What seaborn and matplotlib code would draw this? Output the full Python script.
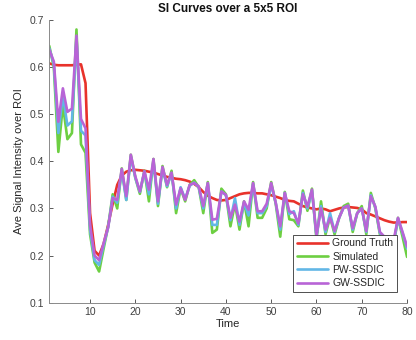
import numpy as np
import pandas as pd
import matplotlib
matplotlib.use("Agg")
import matplotlib.pyplot as plt
import seaborn as sns

time = list(range(1, 81))

ground_truth = [0.608, 0.605, 0.604, 0.604, 0.604, 0.604, 0.605, 0.606, 0.566, 0.29,
                0.21, 0.20, 0.225, 0.265, 0.31, 0.35, 0.37, 0.378, 0.381, 0.382,
                0.381, 0.38, 0.378, 0.376, 0.373, 0.37, 0.367, 0.365, 0.363, 0.362,
                0.36, 0.357, 0.352, 0.345, 0.335, 0.327, 0.322, 0.318, 0.317, 0.318,
                0.322, 0.326, 0.33, 0.332, 0.333, 0.333, 0.332, 0.332, 0.33, 0.328,
                0.325, 0.322, 0.318, 0.316, 0.315, 0.31, 0.305, 0.302, 0.30, 0.298,
                0.30, 0.298, 0.294, 0.297, 0.30, 0.302, 0.303, 0.302, 0.301, 0.298,
                0.29, 0.287, 0.283, 0.279, 0.275, 0.272, 0.27, 0.27, 0.271, 0.271]

simulated = [0.645, 0.60, 0.42, 0.52, 0.447, 0.46, 0.68, 0.436, 0.418, 0.245,
             0.185, 0.166, 0.215, 0.262, 0.33, 0.30, 0.385, 0.318, 0.414, 0.365,
             0.331, 0.38, 0.315, 0.405, 0.305, 0.39, 0.345, 0.38, 0.29, 0.343,
             0.315, 0.35, 0.36, 0.345, 0.29, 0.356, 0.248, 0.255, 0.342, 0.33,
             0.262, 0.31, 0.255, 0.315, 0.262, 0.356, 0.28, 0.28, 0.30, 0.356,
             0.31, 0.24, 0.335, 0.277, 0.275, 0.262, 0.338, 0.295, 0.342, 0.235,
             0.315, 0.245, 0.282, 0.245, 0.28, 0.305, 0.31, 0.25, 0.29, 0.305,
             0.245, 0.333, 0.30, 0.245, 0.23, 0.24, 0.22, 0.28, 0.24, 0.197]

pw_ssdic = [0.64, 0.607, 0.46, 0.54, 0.476, 0.485, 0.662, 0.465, 0.455, 0.255,
            0.19, 0.18, 0.222, 0.26, 0.325, 0.312, 0.38, 0.318, 0.41, 0.365,
            0.335, 0.378, 0.33, 0.40, 0.31, 0.385, 0.347, 0.375, 0.30, 0.345,
            0.32, 0.348, 0.355, 0.345, 0.30, 0.353, 0.265, 0.265, 0.336, 0.328,
            0.275, 0.322, 0.265, 0.312, 0.285, 0.352, 0.29, 0.29, 0.305, 0.35,
            0.312, 0.255, 0.333, 0.288, 0.294, 0.265, 0.333, 0.30, 0.338, 0.24,
            0.305, 0.25, 0.29, 0.25, 0.28, 0.302, 0.305, 0.255, 0.29, 0.30,
            0.25, 0.328, 0.302, 0.248, 0.235, 0.24, 0.225, 0.278, 0.248, 0.215]

gw_ssdic = [0.637, 0.612, 0.484, 0.555, 0.505, 0.512, 0.667, 0.49, 0.47, 0.265,
            0.20, 0.19, 0.226, 0.26, 0.322, 0.318, 0.384, 0.326, 0.414, 0.368,
            0.336, 0.379, 0.34, 0.405, 0.315, 0.388, 0.35, 0.376, 0.308, 0.343,
            0.318, 0.35, 0.354, 0.347, 0.305, 0.354, 0.276, 0.278, 0.336, 0.329,
            0.28, 0.308, 0.272, 0.315, 0.297, 0.354, 0.294, 0.294, 0.31, 0.354,
            0.312, 0.262, 0.333, 0.294, 0.29, 0.268, 0.33, 0.304, 0.34, 0.243,
            0.30, 0.255, 0.28, 0.252, 0.28, 0.302, 0.306, 0.258, 0.29, 0.30,
            0.252, 0.326, 0.304, 0.25, 0.24, 0.24, 0.23, 0.28, 0.25, 0.219]

series_names = ["Ground Truth", "Simulated", "PW-SSDIC", "GW-SSDIC"]
x_ticks = [10, 20, 30, 40, 50, 60, 70, 80]
y_ticks = [0.1, 0.2, 0.3, 0.4, 0.5, 0.6, 0.7]

df = pd.concat([
    pd.DataFrame({"Time": time, "Value": vals, "Series": name})
    for name, vals in zip(series_names, [ground_truth, simulated, pw_ssdic, gw_ssdic])
], ignore_index=True)

sns.set_style("white")
plt.rcParams['font.family'] = ['Liberation Sans', 'DejaVu Sans']

palette = {"Ground Truth": "#e8322b", "Simulated": "#6dcf42",
           "PW-SSDIC": "#62b7e6", "GW-SSDIC": "#b864d6"}

fig = plt.figure(figsize=(4.16, 3.40), dpi=100)
ax = fig.add_axes([0.1185, 0.11, 0.86, 0.831])

sns.lineplot(data=df, x="Time", y="Value", hue="Series", hue_order=series_names,
             palette=palette, linewidth=1.9, ax=ax, legend=True)

ax.set_xlim(1, 80)
ax.set_ylim(0.1, 0.7)
ax.set_xticks(x_ticks)
ax.set_yticks(y_ticks)
ax.set_yticklabels([f"{v:.1f}" for v in y_ticks])
ax.tick_params(direction="in", length=3, width=0.6, colors="#404040", labelsize=7.5,
               bottom=True, left=True, top=False, right=False)
for s in ["top", "right"]:
    ax.spines[s].set_visible(False)
for s in ["left", "bottom"]:
    ax.spines[s].set_color("#8a8a8a")
    ax.spines[s].set_linewidth(0.7)

ax.set_xlabel("Time", fontsize=8, color="#262626", labelpad=1)
ax.set_ylabel("Ave Signal Intensity over ROI", fontsize=8, color="#262626", labelpad=4)
ax.set_title("SI Curves over a 5x5 ROI", fontsize=8.5, fontweight="bold", color="#111111", pad=6)

leg = ax.legend(loc="lower right", bbox_to_anchor=(0.972, 0.038), borderaxespad=0,
                fontsize=7.5, frameon=True, fancybox=False, framealpha=1,
                edgecolor="#333333", handlelength=3.0, handletextpad=0.4,
                labelspacing=0.32, borderpad=0.35)
leg.get_frame().set_linewidth(0.6)
for t in leg.get_texts():
    t.set_color("#262626")

fig.savefig("out.png", dpi=100)
